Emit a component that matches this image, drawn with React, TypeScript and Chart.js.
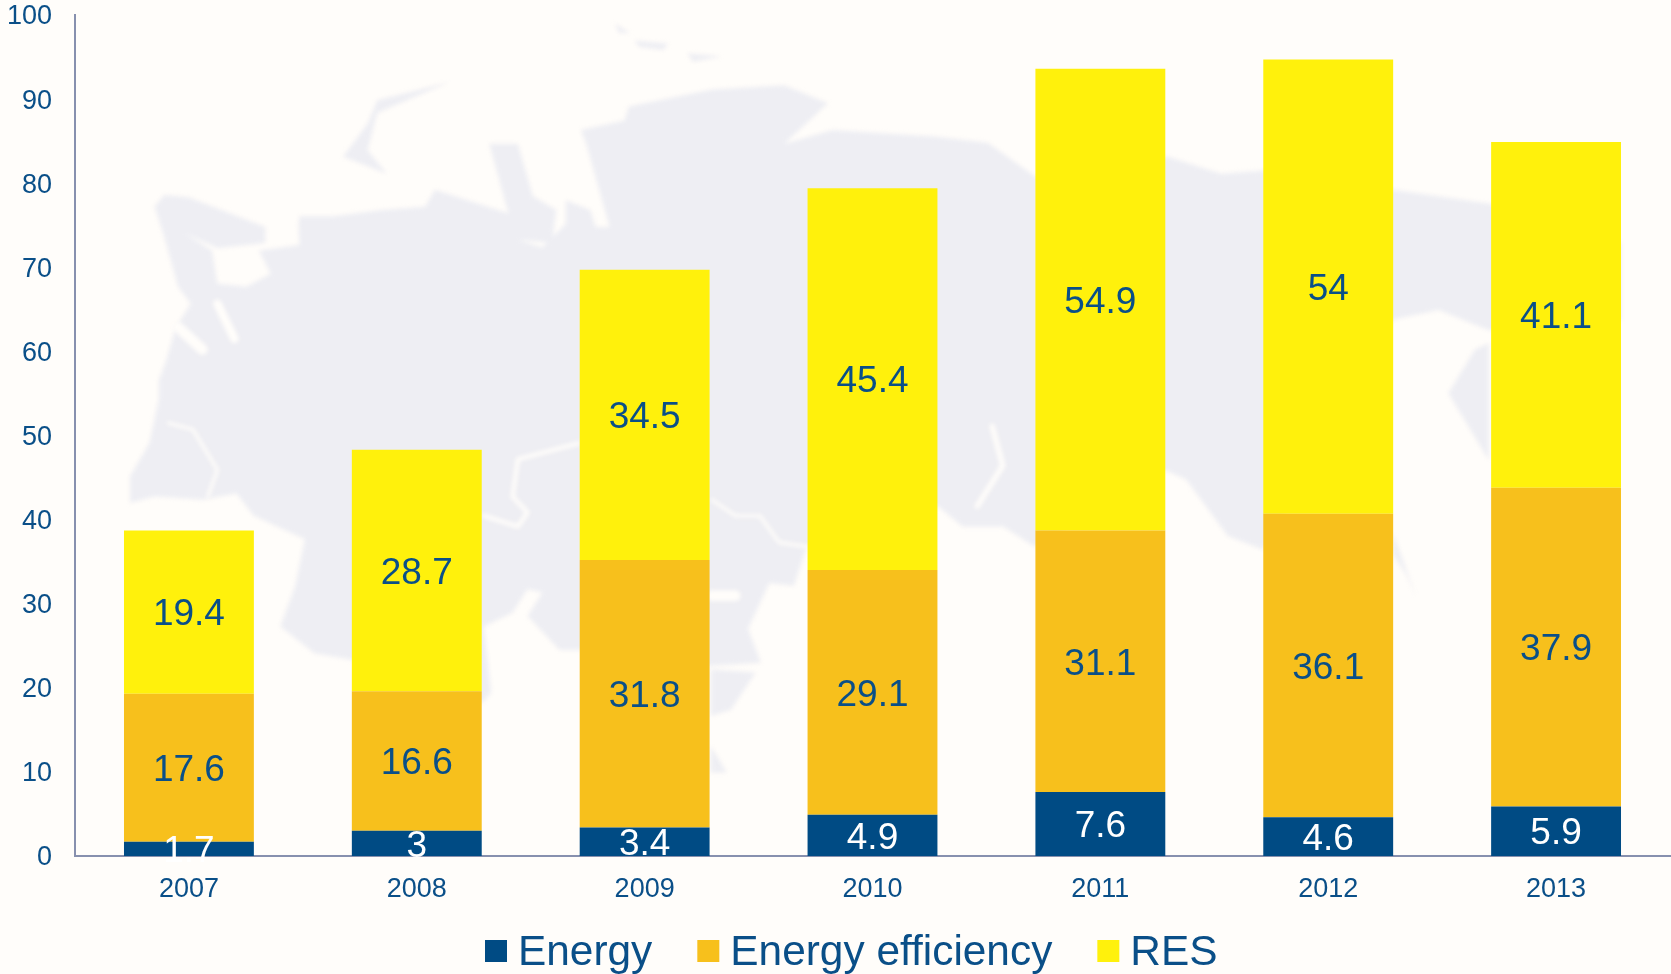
import React, { useEffect, useRef } from "react";
import { Chart, registerables } from "chart.js";

Chart.register(...registerables);

const years = ["2007", "2008", "2009", "2010", "2011", "2012", "2013"];
const energy = [1.7, 3, 3.4, 4.9, 7.6, 4.6, 5.9];
const efficiency = [17.6, 16.6, 31.8, 29.1, 31.1, 36.1, 37.9];
const res = [19.4, 28.7, 34.5, 45.4, 54.9, 54, 41.1];

const FONT = "'Liberation Sans', Arial, sans-serif";
const BLUE = "#004B84";
const ORANGE = "#F7C01C";
const YELLOW = "#FFF10C";
const TEXT = "#0A4F88";
const AXIS = "#8790AE";
const PAGE = "#FFFDFA";
const LAND = "#EEEEF3";

// Decorative backdrop map, in the coordinates of a 1568x914 picture.
const mainland =
  "M145,194 154,183 177,185 249,213 249,228 204,233 174,219 199,235 204,266 231,269 254,257 243,235 281,230 280,210 281,203 313,203 358,197 399,194 408,178 477,200 459,135 486,135 500,184 522,197 518,228 486,225 509,232 531,210 531,188 554,197 559,213 572,213 550,135 545,122 586,113 590,100 668,84 736,80 777,97 736,135 781,122 877,128 927,134 972,166 1096,147 1146,163 1186,160 1307,178 1397,191 1521,228 1521,300 1397,310 1350,291 1307,300 1185,516 1152,503 1113,450 1093,441 971,513 941,494 903,494 880,475 757,513 745,550 722,547 702,590 714,622 667,625 543,610 525,610 495,578 509,556 495,553 481,575 454,588 461,650 452,660 330,619 295,613 263,588 277,550 286,506 238,484 222,463 190,469 145,466 122,472 122,447 140,416 149,375 149,357 156,338 165,307 179,285 167,269 154,222Z";
const islands = [
  "M422,77 354,94 345,116 322,147 363,163 345,141 354,106Z",
  "M577,22 591,31 581,31Z",
  "M595,38 627,41 622,47 600,44Z",
  "M645,50 677,53 650,58Z",
  "M1397,322 1384,328 1359,369 1397,432Z",
  "M1307,500 1329,560 1320,540 1307,520Z",
  "M667,628 709,631 686,666 667,672Z",
  "M667,700 682,725 667,725Z",
];
const borders = [
  { path: "M158,397 181,403 204,441 195,466", width: 3 },
  { path: "M543,416 486,431 481,466 495,481 486,494 454,484", width: 4 },
  { path: "M668,469 690,484 713,484 731,509 757,513", width: 3 },
  { path: "M931,400 941,437 917,475", width: 5 },
  { path: "M668,559 690,559", width: 10 },
  { path: "M204,285 220,318", width: 8 },
  { path: "M167,307 190,328", width: 10 },
];

const backdrop = {
  id: "backdrop",
  beforeDraw(chart: any) {
    const { ctx, width, height } = chart;
    ctx.save();
    ctx.fillStyle = PAGE;
    ctx.fillRect(0, 0, width, height);
    ctx.scale(1671 / 1568, 974 / 914);
    ctx.filter = "blur(2px)";
    ctx.fillStyle = LAND;
    ctx.fill(new Path2D(mainland));
    islands.forEach((p) => ctx.fill(new Path2D(p)));
    ctx.strokeStyle = PAGE;
    ctx.lineJoin = "round";
    ctx.lineCap = "round";
    borders.forEach((b) => {
      ctx.lineWidth = b.width;
      ctx.stroke(new Path2D(b.path));
    });
    ctx.restore();
  },
};

const barLabels = {
  id: "barLabels",
  afterDatasetsDraw(chart: any) {
    const { ctx } = chart;
    ctx.save();
    ctx.font = `37px ${FONT}`;
    ctx.textAlign = "center";
    ctx.textBaseline = "middle";
    chart.data.datasets.forEach((ds: any, i: number) => {
      ctx.fillStyle = i === 0 ? "#FFFFFF" : TEXT;
      chart.getDatasetMeta(i).data.forEach((bar: any, j: number) => {
        ctx.fillText(String(ds.data[j]), bar.x, (bar.y + bar.base) / 2 + 3);
      });
    });
    ctx.restore();
  },
};

const bottomLegend = {
  id: "bottomLegend",
  afterDraw(chart: any) {
    const { ctx } = chart;
    ctx.save();
    ctx.font = `42.4px ${FONT}`;
    ctx.textAlign = "left";
    ctx.textBaseline = "alphabetic";
    let x = 485;
    chart.data.datasets.forEach((ds: any) => {
      ctx.fillStyle = ds.backgroundColor;
      ctx.fillRect(x, 940, 22, 22);
      ctx.fillStyle = TEXT;
      ctx.fillText(ds.label, x + 33, 965);
      x += 33 + ctx.measureText(ds.label).width + 45;
    });
    ctx.restore();
  },
};

export default function App() {
  const ref = useRef<HTMLCanvasElement>(null);
  useEffect(() => {
    if (!ref.current) return;
    const chart = new Chart(ref.current, {
      type: "bar",
      data: {
        labels: years,
        datasets: [
          { label: "Energy", data: energy, backgroundColor: BLUE },
          { label: "Energy efficiency", data: efficiency, backgroundColor: ORANGE },
          { label: "RES", data: res, backgroundColor: YELLOW },
        ],
      },
      options: {
        responsive: false,
        animation: false,
        devicePixelRatio: 1,
        layout: { autoPadding: false, padding: { top: 15, right: 1, left: 0, bottom: 0 } },
        datasets: { bar: { barPercentage: 0.57, categoryPercentage: 1 } },
        plugins: { legend: { display: false }, tooltip: { enabled: false } },
        scales: {
          x: {
            stacked: true,
            afterFit(scale: any) {
              scale.height = 118;
              scale.paddingLeft = 0;
              scale.paddingRight = 0;
            },
            grid: { display: false, drawTicks: false },
            border: { color: AXIS, width: 2 },
            ticks: { color: TEXT, font: { family: FONT, size: 27 }, padding: 17, maxRotation: 0 },
          },
          y: {
            stacked: true,
            min: 0,
            max: 100,
            afterFit(scale: any) {
              scale.width = 75;
              scale.paddingTop = 0;
              scale.paddingBottom = 0;
            },
            grid: { display: false, drawTicks: false },
            border: { color: AXIS, width: 2 },
            ticks: { color: TEXT, font: { family: FONT, size: 27 }, stepSize: 10, padding: 23, labelOffset: 2 },
          },
        },
      },
      plugins: [backdrop, barLabels, bottomLegend],
    } as any);
    return () => chart.destroy();
  }, []);
  return (
    <>
      <style>{`body{margin:0;background:${PAGE}}`}</style>
      <canvas ref={ref} width={1671} height={974} style={{ display: "block" }} />
    </>
  );
}
